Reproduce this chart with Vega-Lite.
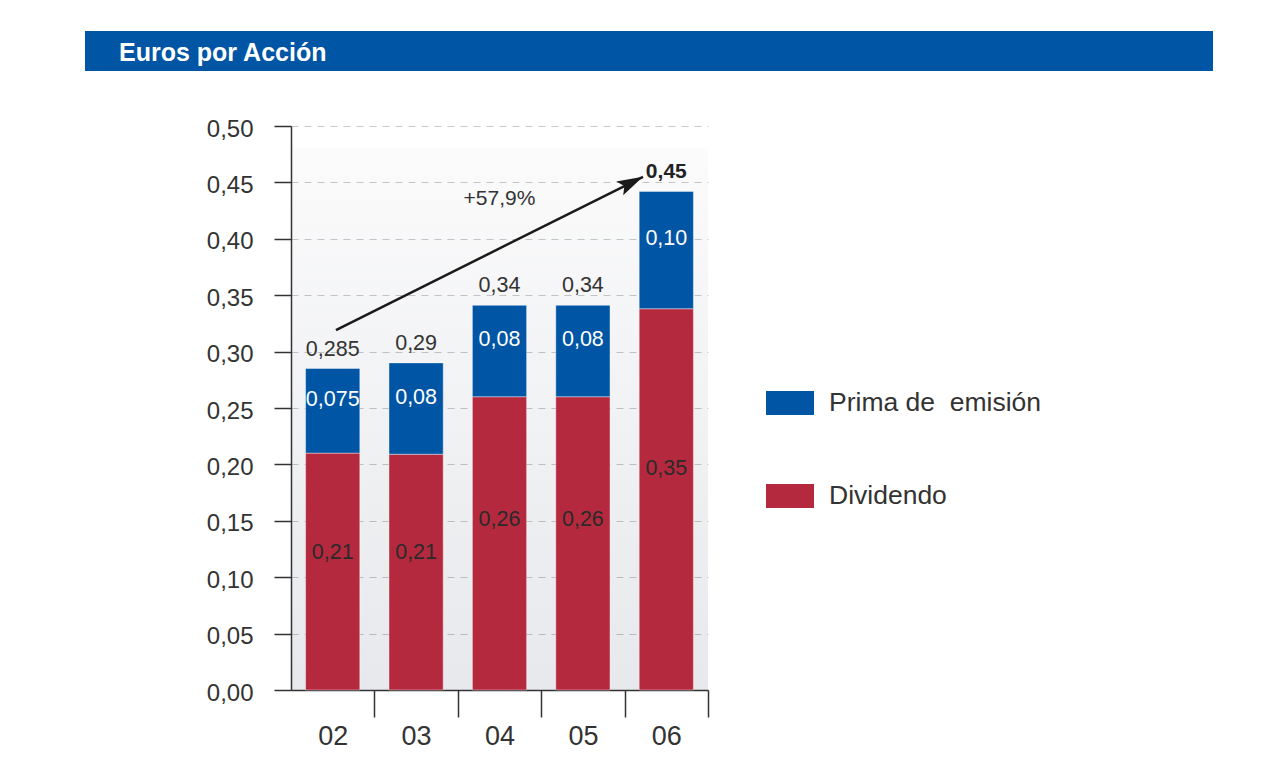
{
  "$schema": "https://vega.github.io/schema/vega-lite/v6.json",
  "padding": {"left": 85, "top": 31, "right": 5, "bottom": 5},
  "spacing": 46,
  "config": {
    "font": "Liberation Sans",
    "view": {"stroke": null},
    "text": {"color": "#333333"}
  },
  "datasets": {
    "bars": [
      {"year": "02", "serie": "Dividendo", "value": 0.21, "label": "0,21"},
      {"year": "02", "serie": "Prima de\u00a0 emisión", "value": 0.075, "label": "0,075"},
      {"year": "03", "serie": "Dividendo", "value": 0.209, "label": "0,21"},
      {"year": "03", "serie": "Prima de\u00a0 emisión", "value": 0.081, "label": "0,08"},
      {"year": "04", "serie": "Dividendo", "value": 0.26, "label": "0,26"},
      {"year": "04", "serie": "Prima de\u00a0 emisión", "value": 0.081, "label": "0,08"},
      {"year": "05", "serie": "Dividendo", "value": 0.26, "label": "0,26"},
      {"year": "05", "serie": "Prima de\u00a0 emisión", "value": 0.081, "label": "0,08"},
      {"year": "06", "serie": "Dividendo", "value": 0.338, "label": "0,35"},
      {"year": "06", "serie": "Prima de\u00a0 emisión", "value": 0.104, "label": "0,10"}
    ],
    "totals": [
      {"year": "02", "total": 0.285, "label": "0,285"},
      {"year": "03", "total": 0.29, "label": "0,29"},
      {"year": "04", "total": 0.341, "label": "0,34"},
      {"year": "05", "total": 0.341, "label": "0,34"},
      {"year": "06", "total": 0.442, "label": "0,45"}
    ],
    "arrow": [
      {"from": "02", "to": "06", "ys": 0.319, "ye": 0.455}
    ],
    "notes": [
      {"year": "04", "yn": 0.435, "note": "+57,9%"}
    ]
  },
  "vconcat": [
    {
      "width": 1128,
      "height": 40,
      "view": {"fill": "#0055a5", "stroke": null},
      "data": {"values": [{"t": "Euros por Acción"}]},
      "mark": {"type": "text", "align": "left", "baseline": "middle", "dx": -530, "dy": 2, "fontSize": 25, "fontWeight": "bold", "color": "#ffffff"},
      "encoding": {"text": {"field": "t"}}
    },
    {
      "spacing": 0,
      "hconcat": [
        {
          "width": 86,
          "height": 1,
          "data": {"values": []},
          "mark": "point"
        },
        {
          "width": 417,
          "height": 564,
          "layer": [
            {
              "data": {"values": [{}]},
              "mark": {
                "type": "rect",
                "color": {
                  "gradient": "linear", "x1": 0, "y1": 0, "x2": 0, "y2": 1,
                  "stops": [
                    {"offset": 0, "color": "rgba(40,50,80,0.02)"},
                    {"offset": 1, "color": "rgba(40,50,80,0.11)"}
                  ]
                }
              },
              "encoding": {
                "y": {"datum": 0.48, "type": "quantitative", "title": null},
                "y2": {"datum": 0}
              }
            },
            {
              "data": {"name": "bars"},
              "mark": {"type": "bar", "stroke": "#ffffff", "strokeOpacity": 0.4, "strokeWidth": 1},
              "encoding": {
                "x": {
                  "field": "year", "type": "nominal", "title": null,
                  "scale": {"paddingInner": 0.35, "paddingOuter": 0.175},
                  "axis": {
                    "title": null, "labelAngle": 0, "labelFontSize": 27, "labelColor": "#333333",
                    "tickSize": 27, "tickOffset": 41.7, "labelOffset": -41.7, "labelPadding": 6,
                    "domainColor": "#333333", "tickColor": "#333333", "domainWidth": 1.5, "tickWidth": 1.5
                  }
                },
                "y": {
                  "field": "value", "type": "quantitative", "stack": "zero", "title": null,
                  "scale": {"domain": [0, 0.5], "nice": false},
                  "axis": {
                    "title": null, "values": [0, 0.05, 0.1, 0.15, 0.2, 0.25, 0.3, 0.35, 0.4, 0.45, 0.5],
                    "format": ".2f", "labelExpr": "replace(datum.label, '.', ',')",
                    "grid": true, "gridDash": [7, 6], "gridColor": "#c9c9c9", "gridWidth": 1.2,
                    "tickSize": 17, "labelPadding": 21, "labelFontSize": 24, "labelColor": "#333333",
                    "labelOffset": 3, "minExtent": 120,
                    "domainColor": "#333333", "tickColor": "#333333", "domainWidth": 1.5, "tickWidth": 1.5
                  }
                },
                "color": {
                  "field": "serie", "type": "nominal",
                  "scale": {"domain": ["Prima de\u00a0 emisión", "Dividendo"], "range": ["#0055a5", "#b5293f"]},
                  "legend": {
                    "title": null, "orient": "none", "legendX": 681, "legendY": 348,
                    "symbolType": "M-1,-0.5H1V0.5H-1Z", "symbolSize": 2304, "symbolStrokeWidth": 0,
                    "symbolOpacity": 1, "labelFontSize": 26.5, "labelColor": "#333333",
                    "labelOffset": 15, "rowPadding": 55, "labelLimit": 400
                  }
                },
                "order": {"field": "serie", "sort": "ascending"}
              }
            },
            {
              "data": {"name": "bars"},
              "transform": [
                {"stack": "value", "groupby": ["year"], "sort": [{"field": "serie", "order": "ascending"}], "as": ["v0", "v1"]},
                {"filter": "datum.serie !== 'Dividendo'"},
                {"calculate": "(datum.v0 + datum.v1) / 2", "as": "mid"}
              ],
              "mark": {"type": "text", "fontSize": 21.5, "color": "#ffffff", "baseline": "middle", "dy": -11},
              "encoding": {
                "x": {"field": "year", "type": "nominal", "title": null},
                "y": {"field": "mid", "type": "quantitative", "title": null},
                "text": {"field": "label"}
              }
            },
            {
              "data": {"name": "bars"},
              "transform": [
                {"filter": "datum.serie === 'Dividendo'"},
                {"calculate": "datum.value * 0.58", "as": "pos"}
              ],
              "mark": {"type": "text", "fontSize": 21.5, "color": "#2a2a2a", "baseline": "middle"},
              "encoding": {
                "x": {"field": "year", "type": "nominal", "title": null},
                "y": {"field": "pos", "type": "quantitative", "title": null},
                "text": {"field": "label"}
              }
            },
            {
              "data": {"name": "totals"},
              "transform": [{"filter": "datum.year !== '06'"}],
              "mark": {"type": "text", "fontSize": 21.5, "color": "#333333", "baseline": "middle", "dy": -19},
              "encoding": {
                "x": {"field": "year", "type": "nominal", "title": null},
                "y": {"field": "total", "type": "quantitative", "title": null},
                "text": {"field": "label"}
              }
            },
            {
              "data": {"name": "totals"},
              "transform": [{"filter": "datum.year === '06'"}],
              "mark": {"type": "text", "fontSize": 21, "fontWeight": "bold", "color": "#222222", "baseline": "middle", "dy": -19},
              "encoding": {
                "x": {"field": "year", "type": "nominal", "title": null},
                "y": {"field": "total", "type": "quantitative", "title": null},
                "text": {"field": "label"}
              }
            },
            {
              "data": {"name": "arrow"},
              "mark": {"type": "rule", "strokeWidth": 2.5, "color": "#1a1a1a"},
              "encoding": {
                "x": {"field": "from", "type": "nominal", "bandPosition": 0.56, "title": null},
                "x2": {"field": "to", "bandPosition": 0.07},
                "y": {"field": "ys", "type": "quantitative", "title": null},
                "y2": {"field": "ye"}
              }
            },
            {
              "data": {"name": "arrow"},
              "mark": {"type": "point", "shape": "M0,0L0.3,1L0,0.8L-0.3,1Z", "filled": true, "size": 2704, "angle": 63.5, "color": "#1a1a1a", "opacity": 1},
              "encoding": {
                "x": {"field": "to", "type": "nominal", "bandPosition": 0.07, "title": null},
                "y": {"field": "ye", "type": "quantitative", "title": null}
              }
            },
            {
              "data": {"name": "notes"},
              "mark": {"type": "text", "fontSize": 21, "color": "#333333", "baseline": "middle"},
              "encoding": {
                "x": {"field": "year", "type": "nominal", "title": null},
                "y": {"field": "yn", "type": "quantitative", "title": null},
                "text": {"field": "note"}
              }
            }
          ]
        }
      ]
    }
  ]
}
